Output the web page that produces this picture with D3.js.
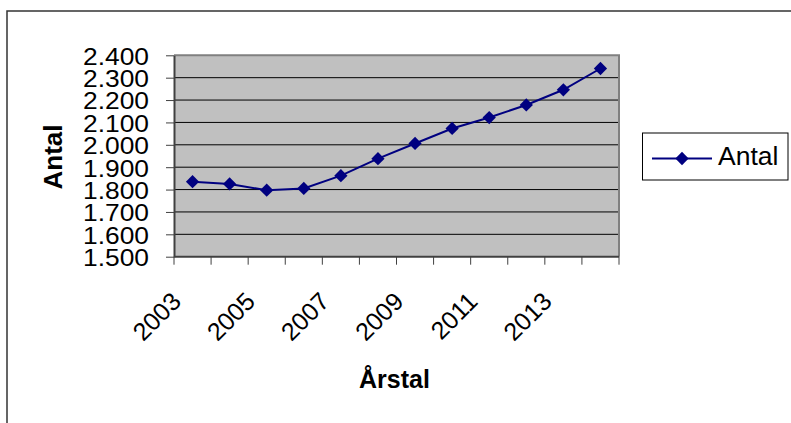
<!DOCTYPE html>
<html>
<head>
<meta charset="utf-8">
<script src="https://cdn.jsdelivr.net/npm/d3@7"></script>
<style>
html,body{margin:0;padding:0;background:#fff;}
svg{display:block;font-family:Arial,"Liberation Sans",sans-serif;}
</style>
</head>
<body>
<svg id="chart" width="791" height="423"></svg>
<script>
const categories = ["2003","2004","2005","2006","2007","2008","2009","2010","2011","2012","2013","2014"];
const values = [1835, 1825, 1797, 1805, 1862, 1938, 2006, 2073, 2122, 2178, 2246, 2341];
const yTicks = [1500,1600,1700,1800,1900,2000,2100,2200,2300,2400];
const xLabels = ["2003","2005","2007","2009","2011","2013"];
const seriesName = "Antal";
const yTitle = "Antal";
const xTitle = "Årstal";

const svg = d3.select("#chart");
const plot = {left:174, top:55.3, right:619, bottom:256.7};

// outer frame
svg.append("rect").attr("x",7).attr("y",11).attr("width",800).attr("height",430)
  .attr("fill","none").attr("stroke","#333").attr("stroke-width",1.5);

const x = d3.scaleBand().domain(categories).range([plot.left, plot.right]).padding(0);
const y = d3.scaleLinear().domain([1500,2400]).range([plot.bottom, plot.top]);

// plot background
svg.append("rect").attr("x",plot.left).attr("y",plot.top)
  .attr("width",plot.right-plot.left).attr("height",plot.bottom-plot.top)
  .attr("fill","#c0c0c0");

// gridlines
svg.append("g").selectAll("line").data(yTicks.slice(1,-1)).join("line")
  .attr("x1",plot.left).attr("x2",plot.right)
  .attr("y1",d=>y(d)).attr("y2",d=>y(d))
  .attr("stroke","#000").attr("stroke-width",1);

// top/right border
svg.append("path")
  .attr("d",`M${plot.left},${plot.top}H${plot.right}V${plot.bottom}`)
  .attr("fill","none").attr("stroke","#808080").attr("stroke-width",2);

// y axis
const yAxis = d3.axisLeft(y).tickValues(yTicks).tickSize(8).tickSizeOuter(0)
  .tickFormat(d=>d3.format(",")(d).replace(",", "."));
const gy = svg.append("g").attr("transform",`translate(${plot.left},0)`).call(yAxis);
gy.attr("font-size",null);
gy.select(".domain").attr("stroke","#404040").attr("stroke-width",2);
gy.selectAll(".tick line").attr("stroke","#404040").attr("stroke-width",1);
gy.selectAll(".tick text").attr("x",-25).attr("dy","0.36em")
  .style("font-size","24.5px")
  .attr("textLength",66).attr("lengthAdjust","spacingAndGlyphs")
  .attr("font-family","Arial, 'Liberation Sans', sans-serif").attr("fill","#000");

// x axis: ticks at band boundaries
const bounds = categories.map(c=>x(c)).concat([plot.right]);
const gx = svg.append("g");
gx.append("line").attr("x1",plot.left).attr("x2",plot.right)
  .attr("y1",plot.bottom).attr("y2",plot.bottom)
  .attr("stroke","#404040").attr("stroke-width",2);
gx.selectAll("line.t").data(bounds).join("line").attr("class","t")
  .attr("x1",d=>d).attr("x2",d=>d).attr("y1",plot.bottom).attr("y2",plot.bottom+8)
  .attr("stroke","#404040").attr("stroke-width",1);
gx.selectAll("text").data(xLabels).join("text")
  .attr("transform",d=>`translate(${x(d)+x.bandwidth()/2-10},303) rotate(-45)`)
  .attr("text-anchor","end").style("font-size","25px").attr("fill","#000")
  .text(d=>d);

// line
const line = d3.line().x((d,i)=>x(categories[i])+x.bandwidth()/2).y(d=>y(d));
svg.append("path").datum(values).attr("d",line)
  .attr("fill","none").attr("stroke","#000080").attr("stroke-width",2);

const marker = d3.symbol().type(d3.symbolSquare).size(88)();
svg.append("g").selectAll("path").data(values).join("path")
  .attr("d",marker)
  .attr("transform",(d,i)=>`translate(${x(categories[i])+x.bandwidth()/2},${y(d)}) rotate(45)`)
  .attr("fill","#000080");

// axis titles
svg.append("text").attr("transform",`translate(62,157) rotate(-90)`)
  .attr("text-anchor","middle").style("font-size","26px").attr("font-weight","bold")
  .text(yTitle);
svg.append("text").attr("x",394.5).attr("y",388).attr("text-anchor","middle")
  .style("font-size","25px").attr("font-weight","bold").text(xTitle);

// legend
const lg = svg.append("g");
lg.append("rect").attr("x",642.5).attr("y",133).attr("width",145.5).attr("height",47)
  .attr("fill","#fff").attr("stroke","#000").attr("stroke-width",1);
lg.append("line").attr("x1",652).attr("x2",712).attr("y1",158.5).attr("y2",158.5)
  .attr("stroke","#000080").attr("stroke-width",2);
lg.append("path").attr("d",marker)
  .attr("transform","translate(682,158.5) rotate(45)").attr("fill","#000080");
lg.append("text").attr("x",718).attr("y",165).style("font-size","26.5px").text(seriesName);
</script>
</body>
</html>
